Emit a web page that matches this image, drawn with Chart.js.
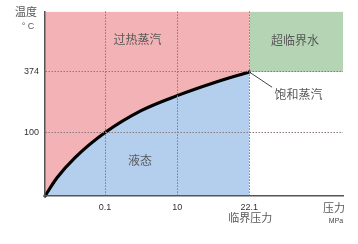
<!DOCTYPE html>
<html>
<head>
<meta charset="utf-8">
<script src="https://cdn.jsdelivr.net/npm/chart.js@4"></script>
<style>
  html, body { margin: 0; padding: 0; background: #fff; }
  #wrap { width: 358px; height: 244px; }
</style>
</head>
<body>
<div id="wrap"><canvas id="c" width="358" height="244"></canvas></div>
<script>
// Phase diagram of water (schematic, axes are not to scale)
const FONT = '"Liberation Sans", "Noto Sans CJK SC", sans-serif';

// schematic axis positions and their labels
const xTickPos = [5, 11, 17];
const xTickLabels = ['0.1', '10', '22.1'];
const yTickPos = [22, 43];
const yTickLabels = ['100', '374'];
const xMax = 24.8;
const yMax = 64;

// saturation curve (schematic units)
const curveX = [0, 1, 2.5, 5, 8, 11, 14, 17];
const curveY = [0, 6.3, 13.3, 22, 29.6, 34.8, 39.2, 43];

// critical point and the leader line to its label
const criticalPoint = [17, 43];
const leaderEnd = [18.9, 37.7];

const curve = curveX.map((x, i) => ({ x, y: curveY[i] }));

const regionLabels = [
  { text: '过热蒸汽', x: 7.7, y: 53.8 },
  { text: '超临界水', x: 20.8, y: 53.6 },
  { text: '饱和蒸汽', x: 21.1, y: 34.7 },
  { text: '液态', x: 7.9, y: 12 },
];

const labelPlugin = {
  id: 'labels',
  afterDraw(chart) {
    const { ctx, scales: { x, y } } = chart;
    ctx.save();
    ctx.textAlign = 'center';
    ctx.textBaseline = 'middle';
    ctx.fillStyle = '#595959';
    ctx.font = '12px ' + FONT;
    regionLabels.forEach(l => {
      ctx.fillText(l.text, x.getPixelForValue(l.x), y.getPixelForValue(l.y));
    });
    // axis titles
    ctx.font = '11px ' + FONT;
    ctx.fillText('温度', 26, 13);
    ctx.fillText('压力', 334, 209);
    ctx.font = '9px ' + FONT;
    ctx.fillText('° C', 28, 27);
    ctx.fillStyle = '#444';
    ctx.font = '7px ' + FONT;
    ctx.fillText('MPa', 336, 221);
    ctx.fillStyle = '#595959';
    ctx.font = '11px ' + FONT;
    ctx.fillText('临界压力', x.getPixelForValue(17) + 1, 219);
    ctx.restore();
  }
};

new Chart(document.getElementById('c'), {
  type: 'scatter',
  data: {
    datasets: [
      {
        // superheated steam, above the curve
        data: curve, showLine: true, pointRadius: 0, borderWidth: 0,
        backgroundColor: '#f3b2b5', fill: 'end', cubicInterpolationMode: 'monotone',
      },
      {
        // supercritical water
        data: [{ x: criticalPoint[0], y: criticalPoint[1] }, { x: xMax, y: criticalPoint[1] }],
        showLine: true, pointRadius: 0, borderWidth: 0,
        backgroundColor: '#b4d4b4', fill: 'end',
      },
      {
        // liquid, below the curve
        data: curve, showLine: true, pointRadius: 0, borderWidth: 0,
        backgroundColor: '#b4cfee', fill: 'origin', cubicInterpolationMode: 'monotone',
      },
      {
        data: [{ x: criticalPoint[0], y: criticalPoint[1] }, { x: leaderEnd[0], y: leaderEnd[1] }],
        showLine: true, pointRadius: 0, borderWidth: 1, borderColor: '#444', fill: false,
      },
    ],
  },
  options: {
    responsive: false,
    animation: false,
    layout: { padding: { top: 5, right: 15, left: 0, bottom: 0 } },
    plugins: { legend: { display: false }, tooltip: { enabled: false } },
    scales: {
      x: {
        type: 'linear', min: 0, max: xMax,
        afterBuildTicks: s => { s.ticks = xTickPos.map(v => ({ value: v })); },
        afterFit: s => { s.height = 48; },
        ticks: {
          padding: 6, color: '#333', font: { size: 9, family: FONT },
          callback: v => xTickLabels[xTickPos.indexOf(v)],
        },
        grid: { color: '#7a7a8a', lineWidth: 1, drawTicks: false, z: 1 },
        border: { color: '#555', width: 1.5, dash: [1.5, 1.5], z: 2 },
      },
      y: {
        type: 'linear', min: 0, max: yMax,
        afterBuildTicks: s => { s.ticks = yTickPos.map(v => ({ value: v })); },
        afterFit: s => { s.width = 45; },
        ticks: {
          padding: 6, color: '#333', font: { size: 9, family: FONT },
          callback: v => yTickLabels[yTickPos.indexOf(v)],
        },
        grid: { color: '#8a7a80', lineWidth: 1, drawTicks: false, z: 1 },
        border: { color: '#555', width: 1.5, dash: [1.5, 1.5], z: 2 },
      },
    },
  },
  plugins: [labelPlugin, {
    id: 'curveLine',
    afterDatasetsDraw(chart) {
      // thick saturation curve, drawn unclipped so the ends show like the original
      const meta = chart.getDatasetMeta(2);
      const { ctx } = chart;
      ctx.save();
      ctx.lineWidth = 3.2;
      ctx.strokeStyle = '#000';
      ctx.lineCap = 'round';
      ctx.beginPath();
      meta.data.forEach((p, i) => {
        if (i === 0) { ctx.moveTo(p.x, p.y); return; }
        const prev = meta.data[i - 1];
        ctx.bezierCurveTo(prev.cp2x, prev.cp2y, p.cp1x, p.cp1y, p.x, p.y);
      });
      ctx.stroke();
      ctx.restore();
    }
  }],
});
</script>
</body>
</html>
